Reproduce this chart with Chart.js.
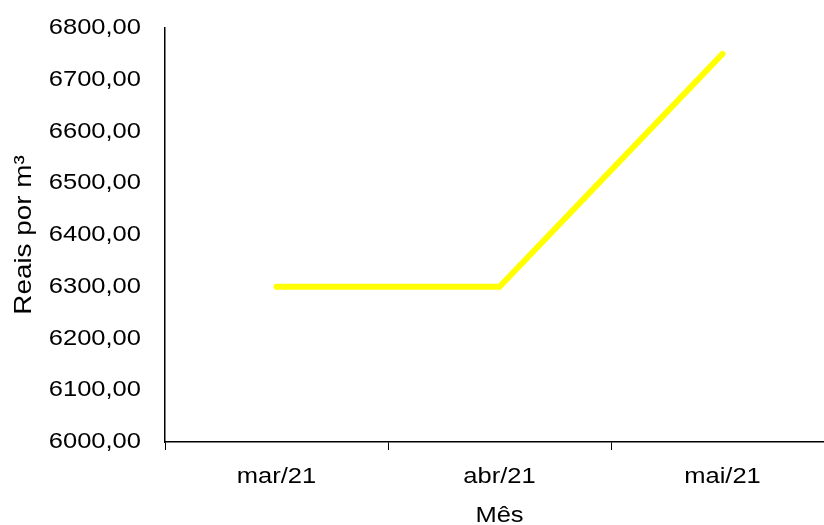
<!DOCTYPE html>
<html>
<head>
<meta charset="utf-8">
<script src="https://cdn.jsdelivr.net/npm/chart.js@4/dist/chart.umd.min.js"></script>
<style>
  html, body { margin: 0; padding: 0; background: #fff; overflow: hidden; }
  #wrap { width: 834px; height: 525px; }
</style>
</head>
<body>
<div id="wrap"><canvas id="c" width="834" height="525"></canvas></div>
<script>
const categories = ['mar/21', 'abr/21', 'mai/21'];
const precoValues = [6300, 6300, 6750];
const yMin = 6000, yMax = 6800, yStep = 100;
const yTitle = 'Reais por m³';
const xTitle = 'Mês';

const FONT = 'Liberation Sans, Arial, sans-serif';
const TEXT_STRETCH = 1.16;

const canvas = document.getElementById('c');
const ctx = canvas.getContext('2d');
// the reference text is horizontally wide: stretch glyphs along the text direction
const origFill = ctx.fillText.bind(ctx);
const origMeasure = ctx.measureText.bind(ctx);
ctx.fillText = function (text, x, y, maxWidth) {
  ctx.save();
  ctx.translate(x, y);
  ctx.scale(TEXT_STRETCH, 1);
  origFill(text, 0, 0);
  ctx.restore();
};
ctx.measureText = function (text) {
  const m = origMeasure(text);
  return {
    width: m.width * TEXT_STRETCH,
    actualBoundingBoxAscent: m.actualBoundingBoxAscent,
    actualBoundingBoxDescent: m.actualBoundingBoxDescent,
    actualBoundingBoxLeft: m.actualBoundingBoxLeft * TEXT_STRETCH,
    actualBoundingBoxRight: m.actualBoundingBoxRight * TEXT_STRETCH,
    fontBoundingBoxAscent: m.fontBoundingBoxAscent,
    fontBoundingBoxDescent: m.fontBoundingBoxDescent
  };
};

new Chart(ctx, {
  type: 'line',
  data: {
    labels: categories,
    datasets: [{
      data: precoValues,
      borderColor: '#FFFF00',
      borderWidth: 6,
      borderCapStyle: 'round',
      borderJoinStyle: 'miter',
      pointRadius: 0,
      tension: 0,
      fill: false
    }]
  },
  options: {
    responsive: false,
    animation: false,
    layout: { padding: { top: 28, left: 0, right: 0, bottom: 0 } },
    plugins: { legend: { display: false }, tooltip: { enabled: false } },
    scales: {
      x: {
        offset: true,
        grid: { display: true, offset: true, drawOnChartArea: false, drawTicks: true, tickLength: 8, color: '#000', lineWidth: 1 },
        border: { display: true, color: '#000', width: 1.5 },
        ticks: { color: '#000', font: { family: FONT, size: 22 }, padding: 14, maxRotation: 0 },
        title: { display: true, text: xTitle, color: '#000', font: { family: FONT, size: 22 }, padding: { top: 0, bottom: -4 } },
        afterFit: (s) => { s.height = 83; }
      },
      y: {
        min: yMin, max: yMax,
        grid: { display: false, drawTicks: true, tickLength: 24 },
        border: { display: true, color: '#000', width: 1.5 },
        ticks: {
          stepSize: yStep, color: '#000', font: { family: FONT, size: 22 }, padding: 0,
          callback: (v) => Number(v).toFixed(2).replace('.', ',')
        },
        title: { display: true, text: yTitle, color: '#000', font: { family: FONT, size: 24 }, padding: { top: 10, bottom: 0 } },
        afterFit: (s) => { s.width = 165; }
      }
    }
  }
});
</script>
</body>
</html>
